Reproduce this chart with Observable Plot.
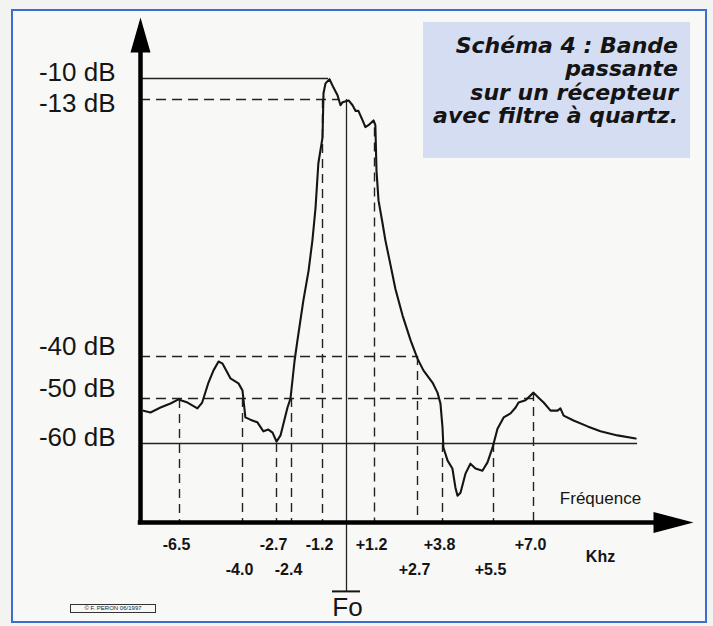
<!DOCTYPE html>
<html>
<head>
<meta charset="utf-8">
<script src="https://cdn.jsdelivr.net/npm/d3@7"></script>
<script src="https://cdn.jsdelivr.net/npm/@observablehq/plot@0.6"></script>
<style>
html, body { margin: 0; padding: 0; background: #f3f3f1; }
#wrap { position: relative; width: 713px; height: 626px; overflow: hidden; background: #f3f3f1; }
#frame { position: absolute; left: 11px; top: 9px; width: 696px; height: 614px; border: 2px solid #3d6ecf; box-sizing: border-box; background: #f8f8f7; }
#chart { position: absolute; left: 0; top: 0; }
#title { position: absolute; left: 423px; top: 22px; width: 267px; height: 136px; background: #d5ddf2; box-sizing: border-box;
  padding: 11.6px 12px 0 0; text-align: right; font: italic bold 22px "DejaVu Sans", sans-serif; line-height: 23.5px; color: #141414; }
#copy { position: absolute; left: 70px; top: 604px; width: 86px; height: 9px; border: 1px solid #333; box-sizing: border-box;
  font: 6px "Liberation Sans", Arial, sans-serif; line-height: 7px; text-align: center; color: #222; white-space: nowrap; }
</style>
</head>
<body>
<div id="wrap">
  <div id="frame"></div>
  <div id="chart"></div>
  <div id="title">Schéma 4 : Bande<br>passante<br>sur un récepteur<br>avec filtre à quartz.</div>
  <div id="copy">© F. PERON 06/1997</div>
</div>
<script>
// ---- Data ----
// Frequency offsets from Fo (kHz) marked on the x axis
const tickValues = [-6.5, -4.0, -2.7, -2.4, -1.2, 1.2, 2.7, 3.8, 5.5, 7.0];
const tickLabels = ["-6.5", "-4.0", "-2.7", "-2.4", "-1.2", "+1.2", "+2.7", "+3.8", "+5.5", "+7.0"];
const tickRow    = [1, 2, 1, 2, 1, 1, 2, 1, 2, 1];
// level where each vertical dashed guide starts (dB)
const tickGuideFrom = [-50.2, -50, -60, -50, -13, -16, -40, -60, -60, -48.6];

// Level marks on the y axis (dB)
const levelValues = [-10, -13, -40, -50, -60];
const levelLabels = ["-10 dB", "-13 dB", "-40 dB", "-50 dB", "-60 dB"];
const levelGuideTo = [-0.9, -0.35, 2.7, 7.0, 10.9];   // kHz where horizontal guide ends
const levelDashed  = [false, true, true, true, false];

// Axis extents (schematic, non-linear drawing)
const xMin = -8.06, xTip = 13, yMin = -78, yTip = -1.4;
const xAxisEnd = 11.5, yAxisEnd = -6.3, foBase = -93.7;

// Response curve of the receiver (kHz, dB)
const freq = [-7.94, -7.66, -7.26, -6.86, -6.54, -6.18, -5.79, -5.60, -5.35, -5.15,
  -4.95, -4.79, -4.48, -4.16, -4.00, -3.89, -3.70, -3.43, -3.20, -3.01,
  -2.85, -2.70, -2.62, -2.48, -2.42, -2.28, -2.17, -1.94, -1.74, -1.59,
  -1.47, -1.36, -1.20, -1.15, -1.05, -0.85, -0.65, -0.45, -0.30, -0.20,
  0.09, 0.26, 0.39, 0.51, 0.69, 0.81, 0.94, 1.16, 1.23, 1.27,
  1.34, 1.48, 1.58, 1.76, 1.93, 2.18, 2.46, 2.70, 2.96, 3.36,
  3.58, 3.71, 3.80, 3.83, 3.97, 4.13, 4.23, 4.30, 4.40, 4.57,
  4.73, 4.90, 5.13, 5.30, 5.47, 5.65, 5.88, 6.14, 6.33, 6.44,
  6.70, 7.00, 7.19, 7.38, 7.64, 7.90, 8.01, 8.13, 8.50, 9.03,
  9.51, 10.15, 10.83];
const level = [-52.7, -53.1, -52.0, -51.1, -50.2, -50.9, -52.2, -50.9, -46.2, -43.3,
  -41.2, -41.7, -45.2, -46.4, -48.1, -54.2, -54.7, -55.3, -57.3, -56.9,
  -57.6, -59.6, -58.2, -52.0, -50.0, -40.95, -38.3, -34.1, -31.0, -27.8,
  -24.4, -19.7, -17.0, -12.1, -10.7, -10.1, -11.3, -12.4, -13.6, -13.3,
  -13.1, -13.6, -14.2, -14.2, -15.2, -15.9, -15.7, -15.2, -15.7, -20.5,
  -23.6, -26.0, -27.8, -30.4, -32.9, -35.7, -38.3, -40.5, -43.3, -46.2,
  -48.6, -51.1, -56.4, -60.9, -63.9, -65.7, -70.0, -71.9, -71.2, -66.8,
  -64.6, -65.7, -66.2, -64.3, -60.9, -56.7, -54.2, -53.3, -52.0, -50.9,
  -50.4, -48.6, -49.8, -50.9, -52.7, -52.7, -52.2, -53.8, -54.9, -56.2,
  -57.3, -58.2, -58.9];

// ---- Tables built from the arrays ----
const curve = freq.map((f, i) => ({f, db: level[i]}));
const ticks = tickValues.map((v, i) => ({v, label: tickLabels[i], row: tickRow[i], from: tickGuideFrom[i]}));
const levels = levelValues.map((v, i) => ({v, label: levelLabels[i], to: levelGuideTo[i], dashed: levelDashed[i]}));

// Piecewise mapping reproduces the schematic (non-uniform) spacing of the drawing
const xKnots = [xMin, ...tickValues.slice(0, 5), 0, ...tickValues.slice(5), xTip];
const xPos   = [140, 179, 242, 276, 291, 322, 346, 374, 417, 442, 493, 533, 693];
const yKnots = [yTip, -10, -13, -40, -50, -60, yMin];
const yPos   = [17, 78, 99, 356, 398, 443, 522];
const xPiece = d3.scaleLinear().domain(xKnots).range(xPos);
const yPiece = d3.scaleLinear().domain(yKnots).range(yPos);

const arrowUp = { draw(ctx) { ctx.moveTo(0, 0); ctx.lineTo(10, 35); ctx.lineTo(-10, 35); ctx.closePath(); } };
const arrowRight = { draw(ctx) { ctx.moveTo(0, 0); ctx.lineTo(-40, 10.5); ctx.lineTo(-40, -10.5); ctx.closePath(); } };

const ink = "#151515";
const chart = Plot.plot({
  width: 713, height: 626,
  marginTop: 0, marginRight: 0, marginBottom: 0, marginLeft: 0,
  style: { background: "transparent", fontFamily: "'Liberation Sans', Arial, sans-serif", color: ink, overflow: "visible" },
  x: { type: "linear", transform: v => xPiece(v), domain: [0, 713], range: [0, 713], axis: null },
  y: { type: "linear", transform: v => yPiece(v), domain: [0, 626], range: [0, 626], axis: null },
  marks: [
    // horizontal guides
    Plot.ruleY(levels.filter(d => !d.dashed), {y: "v", x1: xMin, x2: "to", stroke: "#222", strokeWidth: 1.3}),
    Plot.ruleY(levels.filter(d => d.dashed), {y: "v", x1: xMin, x2: "to", stroke: "#222", strokeWidth: 1.3, strokeDasharray: "10,6"}),
    // vertical guides
    Plot.ruleX(ticks, {x: "v", y1: "from", y2: yMin, stroke: "#222", strokeWidth: 1.4, strokeDasharray: "9,6"}),
    // Fo line and its bar
    Plot.ruleX([0], {y1: -13, y2: foBase, stroke: "#222", strokeWidth: 1.3}),
    Plot.ruleY([foBase], {x1: -0.7, x2: 0.6, stroke: ink, strokeWidth: 2}),
    // response curve
    Plot.line(curve, {x: "f", y: "db", stroke: ink, strokeWidth: 2.1, strokeLinejoin: "round"}),
    // axes
    Plot.ruleX([xMin], {y1: yMin, y2: yAxisEnd, stroke: "#000", strokeWidth: 4.5, strokeLinecap: "square"}),
    Plot.ruleY([yMin], {x1: xMin, x2: xAxisEnd, stroke: "#000", strokeWidth: 4.5, strokeLinecap: "square"}),
    Plot.dot([0], {x: xMin, y: yTip, symbol: arrowUp, fill: "#000", stroke: null}),
    Plot.dot([0], {x: xTip, y: yMin, symbol: arrowRight, fill: "#000", stroke: null}),
    // y labels
    Plot.text(levels.filter(d => d.v === -10 || d.v === -60), {x: xMin, y: "v", text: "label", dx: -25, dy: -5.5, textAnchor: "end", fontSize: 26, fill: ink}),
    Plot.text(levels.filter(d => d.v === -13), {x: xMin, y: "v", text: "label", dx: -25, dy: 4.5, textAnchor: "end", fontSize: 26, fill: ink}),
    Plot.text(levels.filter(d => d.v === -40 || d.v === -50), {x: xMin, y: "v", text: "label", dx: -25, dy: -9.5, textAnchor: "end", fontSize: 26, fill: ink}),
    // x labels
    Plot.text(ticks.filter(d => d.row === 1), {x: "v", y: yMin, text: "label", dx: -3, dy: 22, fontSize: 16, fontWeight: "bold", fill: ink}),
    Plot.text(ticks.filter(d => d.row === 2), {x: "v", y: yMin, text: "label", dx: -3, dy: 47, fontSize: 16, fontWeight: "bold", fill: ink}),
    Plot.text(["Fréquence"], {x: xTip, y: yMin, text: d => d, dx: -93, dy: -24, fontSize: 17, fill: ink}),
    Plot.text(["Khz"], {x: xTip, y: yMin, text: d => d, dx: -93, dy: 34, fontSize: 16, fontWeight: "bold", fill: ink}),
    Plot.text(["Fo"], {x: 0, y: yMin, text: d => d, dx: 1, dy: 85, fontSize: 26, fill: ink})
  ]
});
document.getElementById("chart").appendChild(chart);
</script>
</body>
</html>
